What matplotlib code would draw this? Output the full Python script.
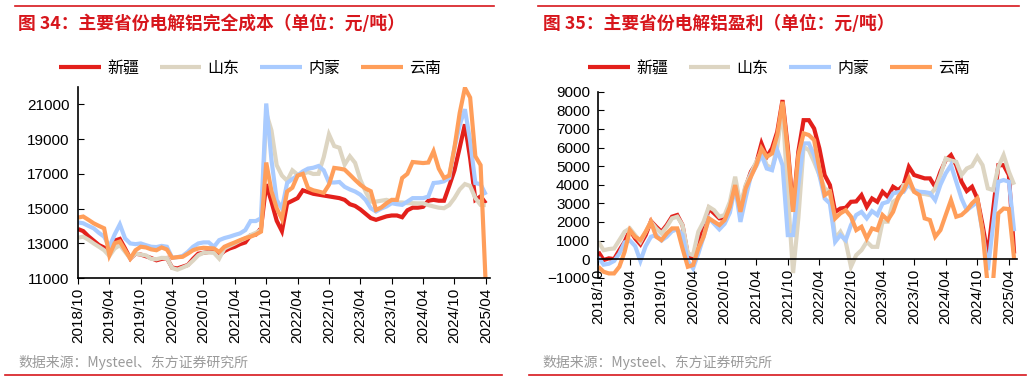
import numpy as np
import matplotlib
matplotlib.use("Agg")
import matplotlib.pyplot as plt

plt.rcParams['font.family'] = ['Liberation Sans', 'Noto Sans CJK SC', 'DejaVu Sans']

series_names = ['新疆', '山东', '内蒙', '云南']
colors = ['#E3201B', '#DDD5C2', '#A9CBFF', '#FF9E5A']
tick_labels = ['2018/10', '2019/04', '2019/10', '2020/04', '2020/10', '2021/04',
               '2021/10', '2022/04', '2022/10', '2023/04', '2023/10', '2024/04',
               '2024/10', '2025/04']

# monthly values starting 2018/10
cost_xinjiang = [13820, 13700, 13400, 13150, 12900, 12750, 12600, 13150, 13250, 12700,
                 12120, 12400, 12350, 12250, 12150, 12020, 12100, 12150, 11600, 11550,
                 11650, 11750, 12100, 12400, 12450, 12500, 12500, 12300, 12550, 12700,
                 12800, 12950, 13050, 13450, 13500, 13860, 16400, 15400, 14300, 13700,
                 15300, 15450, 15600, 16050, 15950, 15850, 15800, 15750, 15700, 15650,
                 15600, 15500, 15250, 15150, 14950, 14700, 14450, 14350, 14450, 14550,
                 14600, 14600, 14500, 14900, 15050, 15050, 15100, 15450, 15500, 15450,
                 15450, 16300, 17200, 18500, 19850, 17900, 15500, 15700, 15300]
cost_shandong = [13320, 13380, 13200, 12990, 12800, 12600, 12270, 12700, 12890, 12510,
                 12120, 12410, 12350, 12300, 12100, 12080, 12160, 12150, 11580, 11480,
                 11600, 11730, 12000, 12310, 12450, 12470, 12450, 12120, 12700, 12850,
                 12990, 13150, 13280, 13470, 13600, 13760, 20500, 19500, 17500, 16900,
                 16600, 17200, 16950, 17000, 17100, 16990, 17000, 17960, 19270, 18600,
                 18500, 17530, 18010, 17630, 16660, 15980, 15400, 15400, 15450, 15500,
                 15400, 15350, 15350, 15310, 15310, 15300, 15300, 15200, 15120, 15050,
                 15020, 15200, 15600, 16100, 16410, 16300, 15600, 15210, 15200]
cost_neimeng = [14200, 14150, 14000, 13860, 13600, 13380, 12800, 13500, 14090, 13280,
                12990, 12950, 12990, 12890, 12800, 12780, 12850, 12800, 12160, 12200,
                12270, 12500, 12800, 12990, 13050, 13050, 12800, 13180, 13300, 13380,
                13480, 13570, 13760, 14280, 14280, 14440, 21050, 17800, 15500, 15000,
                16470, 16700, 16900, 17140, 17300, 17350, 17450, 17200, 16500, 16500,
                16530, 16250, 16100, 15980, 15800, 15500, 15020, 14830, 15000, 15120,
                15310, 15250, 15210, 15400, 15600, 15600, 15600, 15690, 16470, 16500,
                16570, 16760, 18500, 19800, 20720, 18890, 16470, 16400, 15790]
cost_yunnan = [14480, 14540, 14350, 14150, 14000, 13860, 12310, 13000, 13100, 12600,
               12120, 12600, 12800, 12760, 12650, 12600, 12760, 12640, 12160, 12200,
               12220, 12400, 12600, 12700, 12740, 12720, 12700, 12500, 12800, 12930,
               13050, 13180, 13300, 13380, 13500, 13670, 17650, 16000, 15020, 14400,
               15980, 16200, 16900, 17000, 16180, 16050, 15980, 15900, 16370, 17340,
               17300, 17240, 16950, 16650, 16370, 16150, 16000, 14920, 15060, 15300,
               15500, 15500, 16760, 17000, 17680, 17650, 17620, 17650, 18300, 17300,
               16760, 16900, 18500, 20500, 21950, 21390, 18010, 17500, 10500]

profit_xinjiang = [390, -50, 40, 0, 480, 930, 1560, 1110, 790, 1290,
                   2040, 1740, 1470, 1830, 2280, 2370, 1830, 215, 35, 840,
                   1650, 2720, 2460, 2190, 2190, 2810, 4160, 2720, 3890, 4700,
                   5140, 6220, 5500, 5950, 6850, 8550, 6000, 2600, 5770, 7470,
                   7470, 7020, 5950, 4520, 3980, 2540, 2720, 2760, 3080, 3100,
                   3440, 2810, 3260, 3080, 3620, 3350, 3890, 3710, 3980, 4960,
                   4520, 4430, 4340, 4340, 3890, 4700, 5320, 5590, 5050, 4160,
                   3660, 3890, 3260, 1830, 215, 2630, 5050, 5050, 4520, 300]
profit_shandong = [930, 480, 540, 570, 1020, 1470, 1650, 1290, 930, 1470,
                   2010, 1650, 1380, 1740, 2190, 2280, 1830, 300, 215, 1470,
                   2010, 2810, 2630, 2280, 2370, 3080, 4430, 2900, 3980, 4610,
                   5230, 5770, 5050, 4870, 6040, 8190, 3500, -750, 2190, 6040,
                   5860, 5230, 4520, 3800, 3620, 1110, 1470, 930, -410, 215,
                   480, 930, 660, 660, 2010, 2010, 3080, 3260, 3980, 3980,
                   3620, 3530, 3500, 3440, 3800, 4520, 5410, 5300, 5230, 4520,
                   4870, 5000, 5500, 5050, 3800, 3710, 4960, 5590, 4700, 4000]
profit_neimeng = [100, -300, -250, -100, 300, 900, 1000, 700, -100, 700,
                  1200, 1300, 1000, 1200, 1500, 1600, 1300, -100, -500, 300,
                  1200, 2200, 1900, 1600, 1900, 2500, 3900, 2000, 3300, 4500,
                  5000, 5600, 4870, 4780, 5860, 5050, 1290, 1290, 3980, 6220,
                  6220, 5590, 4520, 3260, 2990, 930, 1290, 1020, 1830, 2370,
                  2540, 2190, 2580, 2370, 2990, 3080, 3530, 3600, 3620, 4070,
                  3710, 3620, 3600, 3550, 3170, 4000, 4610, 5050, 4160, 3260,
                  2630, 2850, 3080, 1470, -590, 1830, 4160, 4250, 4160, 1500]
profit_yunnan = [-410, -680, -770, -770, -410, 390, 1560, 1200, 1020, 1470,
                 2010, 1200, 1020, 1380, 1650, 1650, 570, -410, -320, 570,
                 1200, 2190, 2010, 1830, 2100, 2810, 3980, 2540, 3800, 4430,
                 5050, 5950, 5500, 5680, 6670, 8460, 5770, 2540, 5590, 6760,
                 6670, 6400, 4870, 3440, 3620, 2190, 2460, 2630, 2280, 1560,
                 1740, 1110, 1650, 1560, 2370, 2100, 2540, 3350, 3710, 4340,
                 3620, 3440, 2190, 2100, 1200, 1560, 2370, 3170, 2280, 2370,
                 2630, 3000, 3260, 1470, -1500, -1200, 2460, 2720, 2690, 0]

cost_series = [cost_xinjiang, cost_shandong, cost_neimeng, cost_yunnan]
profit_series = [profit_xinjiang, profit_shandong, profit_neimeng, profit_yunnan]

W, H = 1032, 380
fig = plt.figure(figsize=(W / 100, H / 100), dpi=100)

RED = '#D7161C'
cjk = ['Noto Sans CJK SC', 'DejaVu Sans']
tick_pos = np.arange(len(tick_labels)) * 6


def panel(rect, data, ylim, yticks, xmax, zero_axis):
    ax = fig.add_axes(rect)
    for s in ['top', 'right']:
        ax.spines[s].set_visible(False)
    for s in ['left', 'bottom']:
        ax.spines[s].set_linewidth(1.2)
    if zero_axis:
        ax.spines['bottom'].set_position(('data', 0))
    for vals, c, n in zip(data, colors, series_names):
        ax.plot(np.arange(len(vals)), vals, color=c, lw=3.0, label=n,
                solid_joinstyle='miter', solid_capstyle='butt')
    ax.set_xlim(0, xmax)
    ax.set_ylim(*ylim)
    ax.set_yticks(yticks)
    ax.set_xticks(tick_pos)
    ax.set_xticklabels(tick_labels, rotation=90, fontsize=11)
    ax.tick_params(axis='y', direction='in', length=4, labelsize=11, pad=6)
    ax.tick_params(axis='x', direction='out', length=4, pad=3)
    return ax


axL = panel([78 / W, 1 - 278 / H, 412 / W, 191 / H], cost_series,
            (11000, 22000), np.arange(11000, 21001, 2000), 78.8, False)
axR = panel([598.3 / W, 1 - 277.7 / H, 419 / W, 186 / H], profit_series,
            (-1000, 9000), np.arange(-1000, 9001, 1000), 79.6, True)

for ax, cx in [(axL, 250 / W), (axR, 779 / W)]:
    leg = ax.legend(ncol=4, loc='center', bbox_to_anchor=(cx, 1 - 68 / H),
                    bbox_transform=fig.transFigure, frameon=False,
                    handlelength=2.6, handletextpad=0.4, columnspacing=1.3,
                    prop={'family': cjk, 'size': 11.5})
    for line in leg.get_lines():
        line.set_linewidth(3.0)

# titles
fig.text(18 / W, 1 - 24 / H, '图 34：主要省份电解铝完全成本（单位：元/吨）', color=RED,
         fontsize=12.8, fontweight='bold', family=cjk, va='center', ha='left')
fig.text(543 / W, 1 - 24 / H, '图 35：主要省份电解铝盈利（单位：元/吨）', color=RED,
         fontsize=12.8, fontweight='bold', family=cjk, va='center', ha='left')
# sources
fig.text(18 / W, 1 - 362 / H, '数据来源：Mysteel、东方证券研究所', color='#9A9A9A',
         fontsize=10, family=cjk, va='center', ha='left')
fig.text(542 / W, 1 - 362 / H, '数据来源：Mysteel、东方证券研究所', color='#9A9A9A',
         fontsize=10, family=cjk, va='center', ha='left')

# decorative red rules
for x0, x1, y in [(15, 494, 6), (538, 1019, 6), (5, 502, 375), (529, 1026, 375)]:
    fig.add_artist(plt.Line2D([x0 / W, x1 / W], [1 - y / H, 1 - y / H],
                              transform=fig.transFigure, color=RED, lw=1.2))

fig.savefig('out.png', dpi=100)
